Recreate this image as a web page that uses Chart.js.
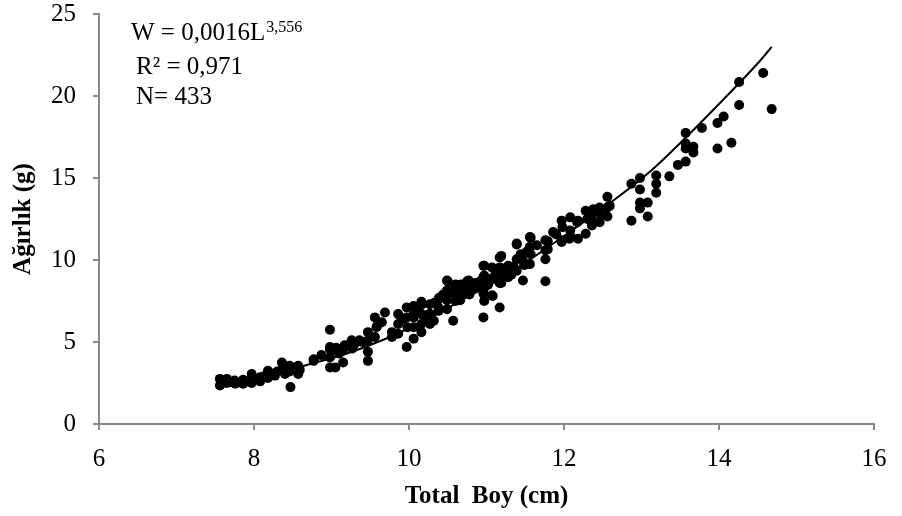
<!DOCTYPE html>
<html>
<head>
<meta charset="utf-8">
<script src="https://cdn.jsdelivr.net/npm/chart.js@4.4.0/dist/chart.umd.min.js"></script>
<style>
  html, body { margin: 0; padding: 0; background: #fff; }
  #wrap { width: 902px; height: 516px; position: relative; }
</style>
</head>
<body>
<div id="wrap"><canvas id="lwChart"></canvas></div>
<script>
const lengths = [
  7.56, 7.56, 7.58, 7.65, 7.65, 7.75, 7.76, 7.86, 7.86, 7.97, 7.97, 7.97, 8.08, 8.08,
  8.18, 8.18, 8.2, 8.27, 8.27, 8.36, 8.36, 8.4, 8.46, 8.46, 8.47, 8.57, 8.57, 8.59,
  8.77, 8.77, 8.87, 8.98, 8.98, 8.98, 8.98, 8.98, 9.05, 9.05, 9.06, 9.15, 9.15, 9.17,
  9.26, 9.27, 9.36, 9.47, 9.47, 9.47, 9.47, 9.56, 9.56, 9.58, 9.59, 9.69, 9.78, 9.78,
  9.86, 9.86, 9.86, 9.97, 9.97, 9.97, 9.98, 10.06, 10.06, 10.06, 10.06, 10.06, 10.16,
  10.16, 10.16, 10.16, 10.17, 10.26, 10.27, 10.27, 10.27, 10.32, 10.38, 10.38, 10.38,
  10.39, 10.49, 10.49, 10.49, 10.49, 10.49, 10.5, 10.57, 10.59, 10.6, 10.6, 10.66,
  10.66, 10.66, 10.67, 10.67, 10.75, 10.77, 10.77, 10.78, 10.86, 10.87, 10.87, 10.96,
  10.96, 10.96, 10.96, 10.97, 10.97, 10.97, 10.97, 11.07, 11.07, 11.07, 11.08, 11.08,
  11.17, 11.17, 11.17, 11.17, 11.17, 11.19, 11.19, 11.19, 11.28, 11.28, 11.3, 11.32,
  11.39, 11.39, 11.39, 11.39, 11.44, 11.47, 11.47, 11.49, 11.49, 11.56, 11.56, 11.56,
  11.57, 11.57, 11.76, 11.76, 11.76, 11.76, 11.79, 11.79, 11.86, 11.97, 11.97, 11.97,
  11.98, 12.07, 12.08, 12.08, 12.09, 12.17, 12.18, 12.18, 12.28, 12.28, 12.3, 12.36,
  12.36, 12.38, 12.38, 12.46, 12.46, 12.48, 12.56, 12.56, 12.56, 12.59, 12.87, 12.87,
  12.98, 12.98, 12.98, 12.98, 13.08, 13.08, 13.19, 13.19, 13.19, 13.36, 13.47, 13.57,
  13.57, 13.57, 13.57, 13.67, 13.67, 13.78, 13.98, 13.98, 14.06, 14.16, 14.26, 14.26,
  14.57, 14.68,
  7.62, 7.7, 7.9, 8.12, 8.3, 9.1, 9.3, 9.4, 9.65, 9.92, 10.12, 10.22, 10.33, 10.44,
  10.55, 10.72, 10.82, 10.92, 11.02, 11.12, 11.24, 11.35, 11.45, 11.52, 11.65, 11.9
];
const weights = [
  2.75, 2.35, 2.55, 2.75, 2.5, 2.65, 2.45, 2.45, 2.7, 3.05, 2.65, 2.5, 2.85, 2.6,
  3.25, 2.8, 3.0, 2.95, 3.1, 3.75, 3.3, 3.05, 3.55, 3.2, 2.25, 3.55, 3.05, 3.3,
  3.95, 3.85, 4.2, 5.75, 4.7, 4.55, 4.05, 3.45, 4.5, 3.45, 4.65, 4.5, 3.75, 4.8,
  5.1, 4.6, 5.1, 5.6, 5.1, 4.4, 3.85, 6.5, 5.3, 5.9, 6.0, 6.8, 5.3, 5.6,
  6.7, 6.1, 5.5, 7.1, 4.7, 6.5, 5.9, 7.2, 6.5, 5.9, 5.2, 6.7, 7.45,
  6.7, 5.6, 6.1, 7.3, 6.7, 6.7, 6.1, 7.3, 6.3, 7.6, 7.1, 6.9,
  7.7, 8.75, 8.15, 7.55, 7.0, 8.0, 8.7, 6.3, 8.4, 8.5, 7.5, 8.15,
  7.55, 7.85, 8.5, 7.8, 8.7, 8.75, 7.95, 7.9, 8.6, 8.35, 8.6, 9.65,
  8.95, 7.95, 6.5, 9.05, 7.5, 8.3, 9.65, 8.85, 7.85, 9.55, 8.9, 7.8,
  10.15, 9.55, 7.1, 9.0, 8.6, 10.25, 9.5, 8.6, 9.65, 8.95, 9.1, 9.1,
  11.0, 10.05, 9.35, 10.95, 10.35, 9.95, 8.75, 9.75, 9.7, 11.4, 10.8, 9.75,
  10.35, 11.35, 11.2, 10.6, 10.05, 8.7, 11.15, 10.65, 11.7, 12.4, 11.2, 11.1,
  12.0, 11.3, 12.6, 11.8, 11.4, 12.3, 12.4, 11.3, 13.0, 11.6, 12.5, 12.7,
  12.1, 13.1, 12.3, 13.2, 12.3, 12.75, 13.85, 13.2, 12.65, 13.3, 14.65, 12.4,
  15.0, 14.3, 13.5, 13.15, 13.5, 12.65, 15.15, 14.65, 14.1, 15.1, 15.8, 16.0,
  17.1, 16.8, 17.75, 16.9, 16.55, 18.05, 18.35, 16.8, 18.75, 17.15, 20.85, 19.45,
  21.4, 19.2,
  2.6, 2.55, 2.6, 2.9, 3.2, 4.3, 4.9, 5.0, 6.2, 6.4, 6.95, 6.4, 7.4, 7.9,
  8.0, 8.3, 8.2, 8.7, 8.5, 9.3, 9.4, 9.6, 10.2, 10.5, 10.9, 11.55
];
// power trend line
const trendX = [7.55, 8.0, 8.65, 9.2, 9.7, 10.2, 10.7, 11.2, 11.6, 12.1, 12.6, 13.1, 13.6, 14.1, 14.53, 14.68];
const trendY = [2.25, 2.6, 3.55, 4.3, 5.2, 6.3, 7.6, 8.9, 10.15, 11.8, 13.5, 15.35, 17.6, 20.0, 22.15, 23.0];

const xTicks = [6, 8, 10, 12, 14, 16];
const yTicks = [0, 5, 10, 15, 20, 25];

const serif = '"Liberation Serif", "Times New Roman", serif';
const axisGrey = '#898989';

const eqnLabel = {
  id: 'eqnLabel',
  afterDraw(chart) {
    const c = chart.ctx;
    c.save();
    c.fillStyle = '#000';
    c.textBaseline = 'alphabetic';
    c.font = '25px ' + serif;
    const base = 'W = 0,0016L';
    c.fillText(base, 131, 40);
    const w = c.measureText(base).width;
    c.font = '16px ' + serif;
    c.fillText('3,556', 131 + w + 1, 32);
    c.font = '25px ' + serif;
    c.fillText('R² = 0,971', 136, 74);
    c.fillText('N= 433', 136, 104);
    c.restore();
  }
};

const pts = lengths.map((x, i) => ({ x: x, y: weights[i] }));
const trend = trendX.map((x, i) => ({ x: x, y: trendY[i] }));

new Chart(document.getElementById('lwChart'), {
  type: 'scatter',
  data: {
    datasets: [
      {
        data: pts,
        backgroundColor: '#000',
        borderColor: '#000',
        pointRadius: 5,
        borderWidth: 0
      },
      {
        type: 'line',
        data: trend,
        borderColor: '#000',
        borderWidth: 2,
        pointRadius: 0,
        fill: false,
        cubicInterpolationMode: 'monotone'
      }
    ]
  },
  options: {
    responsive: true,
    maintainAspectRatio: false,
    animation: false,
    layout: { padding: { top: 14, right: 28, left: 3, bottom: 2 } },
    plugins: { legend: { display: false }, tooltip: { enabled: false } },
    scales: {
      x: {
        type: 'linear',
        min: 6, max: 16,
        afterBuildTicks: (ax) => { ax.ticks = xTicks.map(v => ({ value: v })); },
        afterFit: (s) => { s.height = 90; s.paddingLeft = 0; s.paddingRight = 0; },
        grid: { drawOnChartArea: false, color: axisGrey, tickLength: 6, lineWidth: 2 },
        border: { color: axisGrey, width: 2 },
        ticks: { color: '#000', font: { family: serif, size: 25 }, padding: 14 },
        title: {
          display: true, text: 'Total  Boy (cm)', color: '#000',
          font: { family: serif, size: 25, weight: 'bold' }, padding: { top: 0, bottom: 2 }
        }
      },
      y: {
        min: 0, max: 25,
        afterBuildTicks: (ax) => { ax.ticks = yTicks.map(v => ({ value: v })); },
        afterFit: (s) => { s.width = 96; s.paddingTop = 0; s.paddingBottom = 0; },
        grid: { drawOnChartArea: false, color: axisGrey, tickLength: 6, lineWidth: 2 },
        border: { color: axisGrey, width: 2 },
        ticks: { color: '#000', font: { family: serif, size: 25 }, padding: 17 },
        title: {
          display: true, text: 'Ağırlık (g)', color: '#000',
          font: { family: serif, size: 25, weight: 'bold' }, padding: { top: 6, bottom: 4 }
        }
      }
    }
  },
  plugins: [eqnLabel]
});
</script>
</body>
</html>
